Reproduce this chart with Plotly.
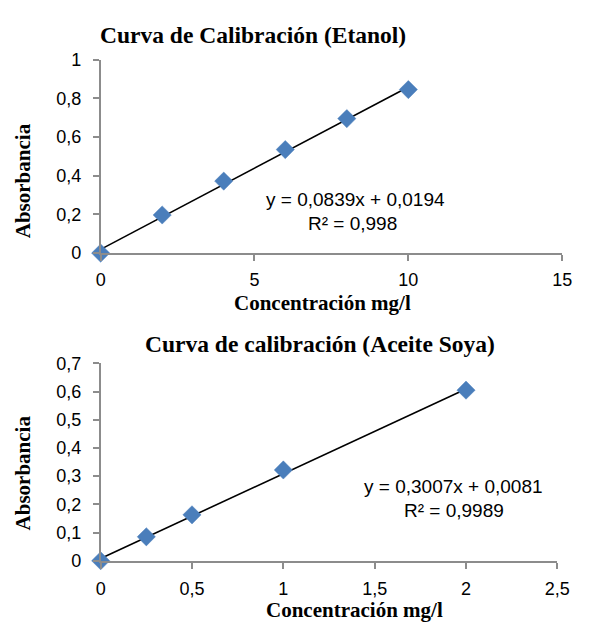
import plotly.graph_objects as go
import numpy as np

# ---- data ----
etanol_conc = [0, 2, 4, 6, 8, 10]
etanol_abs = [0.0, 0.197, 0.372, 0.535, 0.695, 0.845]
etanol_fit = [0.0839, 0.0194]  # slope, intercept
etanol_eq = ["y = 0,0839x + 0,0194", "R² = 0,998"]

soya_conc = [0, 0.25, 0.5, 1, 2]
soya_abs = [0.0, 0.085, 0.163, 0.322, 0.605]
soya_fit = [0.3007, 0.0081]
soya_eq = ["y = 0,3007x + 0,0081", "R² = 0,9989"]

OFF = 8  # default page body margin
W, H = 589 - 2 * OFF, 631 - 2 * OFF
def px(x):
    return (x - OFF) / W
def py(y):
    return 1 - (y - OFF) / H

MARKER = dict(symbol="diamond", size=14, color="#4A7EBB", line=dict(color="#4F81BD", width=0.5))
TICKFONT = dict(family="Liberation Sans, Arial, sans-serif", size=18, color="#000000")
AXCOL = "#8C8C8C"
SERIF = "Liberation Serif, Times New Roman, serif"

fig = go.Figure()

fx = np.array([0, max(etanol_conc)])
fig.add_trace(go.Scatter(x=fx, y=etanol_fit[0] * fx + etanol_fit[1], mode="lines",
                         line=dict(color="black", width=1.6), xaxis="x", yaxis="y",
                         showlegend=False, hoverinfo="skip"))
fig.add_trace(go.Scatter(x=etanol_conc, y=etanol_abs, mode="markers", marker=MARKER,
                         xaxis="x", yaxis="y", showlegend=False, cliponaxis=False))

fx2 = np.array([0, max(soya_conc)])
fig.add_trace(go.Scatter(x=fx2, y=soya_fit[0] * fx2 + soya_fit[1], mode="lines",
                         line=dict(color="black", width=1.6), xaxis="x2", yaxis="y2",
                         showlegend=False, hoverinfo="skip"))
fig.add_trace(go.Scatter(x=soya_conc, y=soya_abs, mode="markers", marker=MARKER,
                         xaxis="x2", yaxis="y2", showlegend=False, cliponaxis=False))

axis_common = dict(showline=True, linecolor=AXCOL, linewidth=1.5, ticks="outside",
                   ticklen=6, tickwidth=1.5, tickcolor=AXCOL, showgrid=False,
                   zeroline=False, tickfont=TICKFONT, ticklabeloverflow="allow")

fig.update_layout(
    width=W, height=H,
    margin=dict(l=0, r=0, t=0, b=0),
    paper_bgcolor="white", plot_bgcolor="white",
    separators=",.",
    xaxis=dict(domain=[px(98.5), px(575)], range=[0, 15], dtick=5, anchor="y",
               ticklabelstandoff=4, **axis_common),
    yaxis=dict(domain=[py(251), py(51)], range=[0, 1], dtick=0.2, anchor="x",
               ticklabelstandoff=8, **axis_common),
    xaxis2=dict(domain=[px(98.5), px(570)], range=[0, 2.5], dtick=0.5, anchor="y2",
                ticklabelstandoff=5, **axis_common),
    yaxis2=dict(domain=[py(569), py(365)], range=[0, 0.7], dtick=0.1, anchor="x2",
                ticklabelstandoff=8, **axis_common),
)

def ann(text, x, y, size, family, bold=False, angle=0):
    fig.add_annotation(text=f"<b>{text}</b>" if bold else text, x=px(x), y=py(y),
                       xref="paper", yref="paper", xanchor="center", yanchor="middle",
                       showarrow=False, textangle=angle,
                       font=dict(family=family, size=size, color="black"))

ann("Curva de Calibración (Etanol)", 256, 26, 23.5, SERIF, bold=True)
ann("Concentración mg/l", 328, 303, 21, SERIF, bold=True)
ann("Absorbancia", 18, 176, 21, SERIF, bold=True, angle=-90)
ann("Curva de calibración (Aceite Soya)", 325, 345, 23.5, SERIF, bold=True)
ann("Concentración mg/l", 361, 620, 21, SERIF, bold=True)
ann("Absorbancia", 18, 478, 21, SERIF, bold=True, angle=-90)

EQFONT = "Liberation Sans, Arial, sans-serif"
ann(etanol_eq[0], 362, 196, 19, EQFONT)
ann(etanol_eq[1], 358, 220, 19, EQFONT)
ann(soya_eq[0], 463, 492, 19, EQFONT)
ann(soya_eq[1], 463, 517, 19, EQFONT)

fig.write_html("out.html")
